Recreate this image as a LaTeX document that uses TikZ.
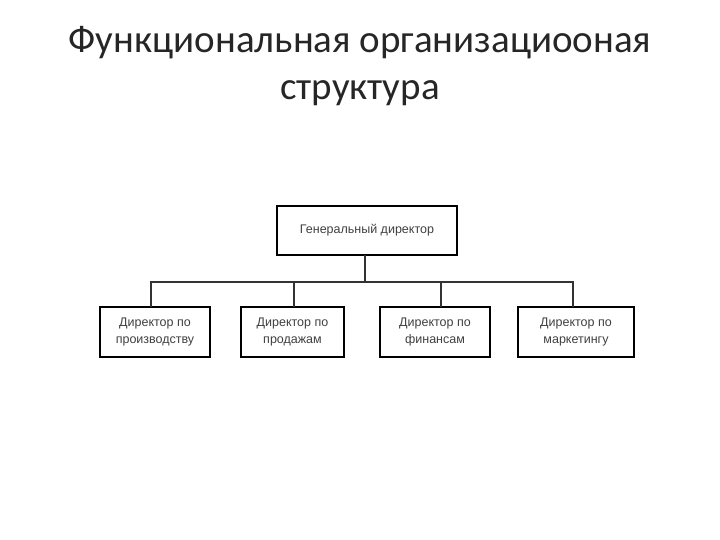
\documentclass[tikz,border=0pt]{standalone}
\usepackage{fontspec}
\setmainfont{Carlito}
\newfontfamily\arialf{Liberation Sans}
\begin{document}
\begin{tikzpicture}[x=1pt,y=-1pt,
  box/.style={draw,line width=2pt,inner sep=0pt,align=center,font=\arialf\fontsize{12.5}{16.5}\selectfont,color=black!75,draw=black},
  conn/.style={line width=1.2pt,black!80}]
\useasboundingbox (0,0) rectangle (720,540);
\node[font=\fontsize{39}{47}\selectfont,align=center,text=black!85] (title) at (360,66) {Функциональная организациооная\\структура};
\node[box,minimum width=180pt,minimum height=49pt] (gd) at (367,230.5) {Генеральный директор};
\node[box,minimum width=110pt,minimum height=50pt] (a) at (155,332) {Директор по\\производству};
\node[box,minimum width=103pt,minimum height=50pt] (b) at (292.5,332) {Директор по\\продажам};
\node[box,minimum width=110pt,minimum height=50pt] (c) at (435,332) {Директор по\\финансам};
\node[box,minimum width=116pt,minimum height=50pt] (d) at (576,332) {Директор по\\маркетингу};
\coordinate (h) at (365,282);
\draw[conn] (365,255) -- (h);
\draw[conn] (151,307) |- (h);
\draw[conn] (573,307) |- (h);
\draw[conn] (294,307) -- (294,282);
\draw[conn] (441,307) -- (441,282);
\end{tikzpicture}
\end{document}
